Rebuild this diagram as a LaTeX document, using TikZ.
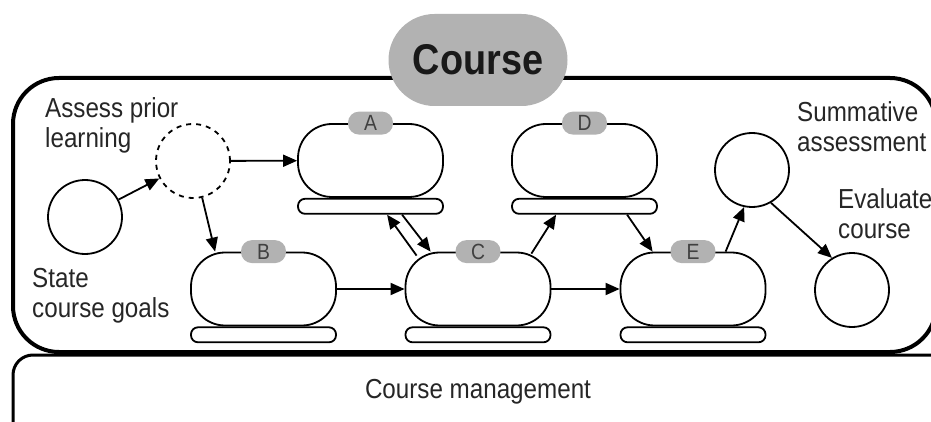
\documentclass[tikz,border=0pt]{standalone}
\usepackage{fontspec}
\setmainfont[FakeStretch=0.88]{Liberation Sans}
\usetikzlibrary{arrows.meta}

\tikzset{
  unit/.style={draw, line width=1.8pt, rounded corners=34pt, minimum width=145pt, minimum height=73pt, inner sep=0pt, fill=white},
  bar/.style={draw, line width=1.8pt, rounded corners=7pt, minimum width=145pt, minimum height=15pt, inner sep=0pt, anchor=north},
  tag/.style={fill=gray!60, rounded corners=11pt, minimum width=45pt, minimum height=23pt, inner sep=0pt, text=black!75, font=\fontsize{22}{22}\selectfont},
  stage/.style={draw, circle, line width=1.8pt, minimum size=74pt, inner sep=0pt},
  lbl/.style={align=left, anchor=north west, inner sep=0pt, text=black!85, font=\fontsize{27.5}{30}\selectfont},
  arr/.style={line width=1.8pt, -{Triangle[length=14pt,width=12pt]}},
}

\begin{document}
\begin{tikzpicture}[x=1pt,y=-1pt]
\useasboundingbox (0,0) rectangle (931,422);
\clip (0,0) rectangle (931,422);

% frames
\draw[line width=3pt, rounded corners=20pt] (13,355) rectangle (960,460);
\node[text=black!85, font=\fontsize{27.5}{30}\selectfont] (mgmt) at (478,392) {Course management};
\draw[line width=4pt, rounded corners=46pt] (13,78) rectangle (936,352);
\node[fill=gray!60, rounded corners=46pt, minimum width=179pt, minimum height=92pt, inner sep=0pt,
  text=black!90, font=\bfseries\fontsize{43}{43}\selectfont] (course) at (478,60) {Course};

% units with their bars and tags
\node[unit] (a) at (370.5,160.5) {};
\node[unit] (d) at (584.5,160.5) {};
\node[unit] (b) at (263.5,289) {};
\node[unit] (c) at (478,289) {};
\node[unit] (e) at (693,289) {};
\foreach \u/\t in {a/A, b/B, c/C, d/D, e/E} {
  \node[bar] (\u bar) at (\u.south) {};
  \node[tag] (\u tag) at (\u.north) {\t};
}

% stages
\node[stage] (goals) at (85,217) {};
\node[stage, dash pattern=on 5pt off 5pt] (prior) at (193,161) {};
\node[stage] (summ) at (752,170) {};
\node[stage] (eval) at (852,290) {};

\node[lbl] (priortxt) at (45,97) {Assess prior\\learning};
\node[lbl] (goalstxt) at (32,268) {State\\course goals};
\node[lbl] (summtxt) at (797,101) {Summative\\assessment};
\node[lbl] (evaltxt) at (838,188) {Evaluate\\course};

% flow
\draw[arr] (goals) -- (prior);
\draw[arr] (prior) -- (a);
\draw[arr] (prior.-76) -- ([xshift=25pt]b.north west);
\draw[arr] (b) -- (c);
\draw[arr] (c) -- (e);
\draw[arr] ([xshift=12pt,yshift=-4pt]c.north west) -- ([xshift=90pt]abar.south west);
\draw[arr] ([xshift=105pt]abar.south west) -- ([xshift=26pt]c.north west);
\draw[arr] ([xshift=-20pt,yshift=-2pt]c.north east) -- ([xshift=45pt]dbar.south west);
\draw[arr] ([xshift=116pt]dbar.south west) -- ([xshift=33pt]e.north west);
\draw[arr] ([xshift=106pt]e.north west) -- (summ.-102);
\draw[arr] (summ.-60) -- (eval.122);
\end{tikzpicture}
\end{document}
